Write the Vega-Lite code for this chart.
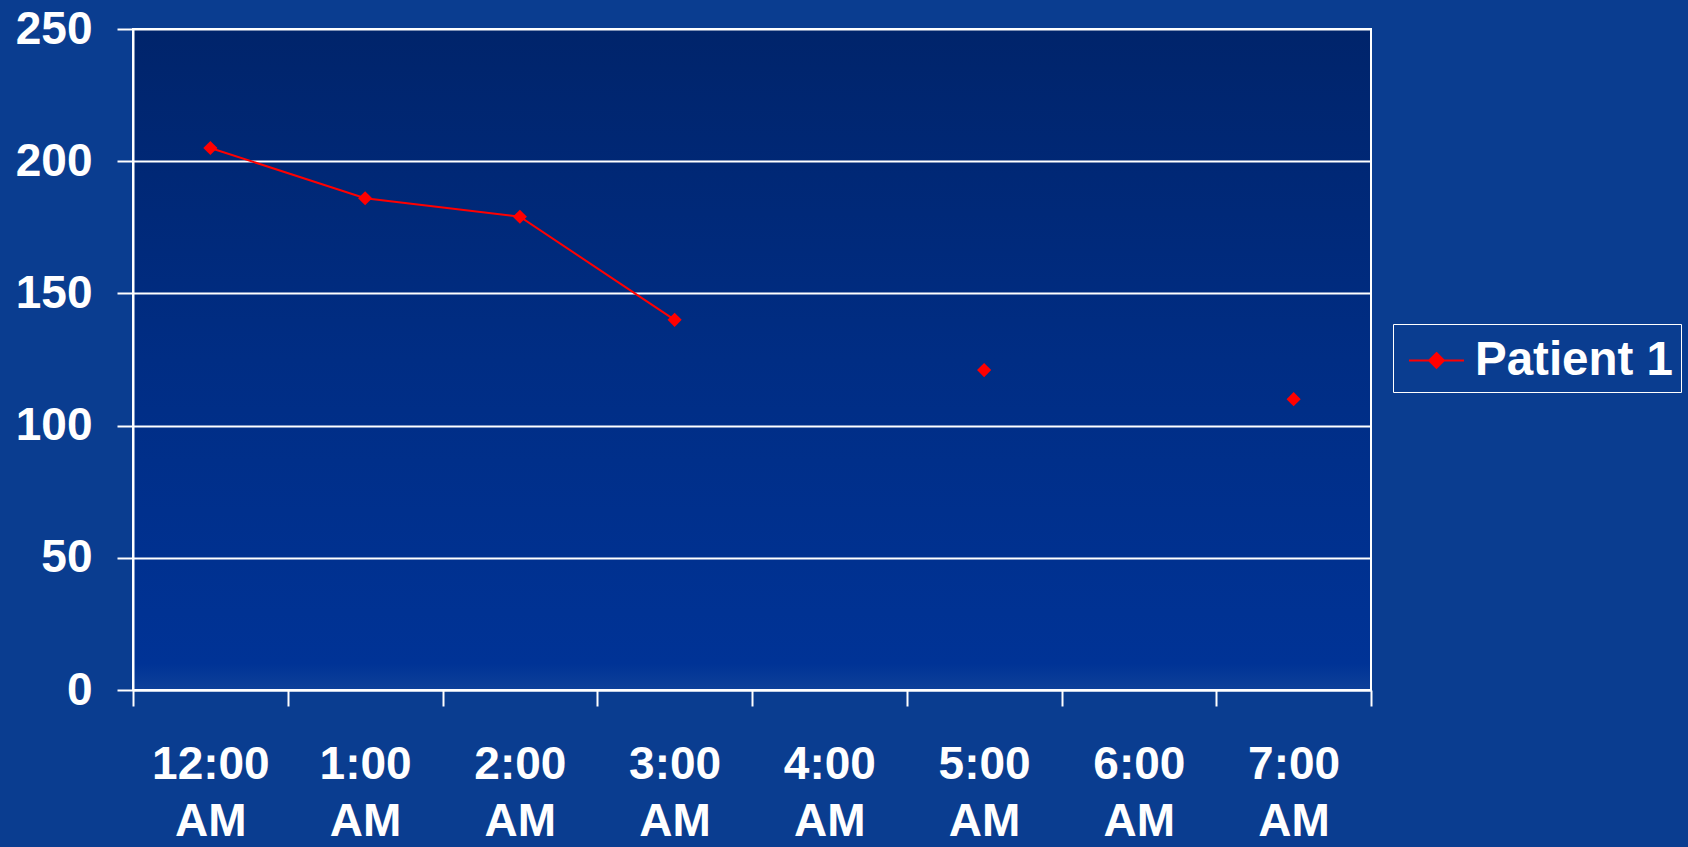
{
  "$schema": "https://vega.github.io/schema/vega-lite/v6.json",
  "width": 1238,
  "height": 661,
  "autosize": {"type": "none"},
  "padding": {"left": 133, "top": 29, "right": 317, "bottom": 157},
  "background": "#0a3d90",
  "config": {
    "font": "Liberation Sans",
    "view": {
      "stroke": "#ffffff",
      "strokeWidth": 2,
      "fill": {
        "gradient": "linear",
        "x1": 0, "y1": 0, "x2": 0, "y2": 1,
        "stops": [
          {"offset": 0, "color": "#00246b"},
          {"offset": 0.5, "color": "#002d84"},
          {"offset": 0.96, "color": "#003396"},
          {"offset": 1, "color": "#0e4099"}
        ]
      }
    },
    "axis": {
      "domainColor": "#ffffff",
      "domainWidth": 2,
      "tickColor": "#ffffff",
      "tickWidth": 2,
      "tickSize": 16,
      "labelColor": "#ffffff",
      "labelFont": "Liberation Sans",
      "labelFontWeight": "bold",
      "labelFontSize": 46,
      "title": null
    }
  },
  "data": {
    "values": [
      {"time": "12:00 AM", "glucose": 205, "series": "Patient 1"},
      {"time": "1:00 AM", "glucose": 186, "series": "Patient 1"},
      {"time": "2:00 AM", "glucose": 179, "series": "Patient 1"},
      {"time": "3:00 AM", "glucose": 140, "series": "Patient 1"},
      {"time": "4:00 AM", "glucose": null, "series": "Patient 1"},
      {"time": "5:00 AM", "glucose": 121, "series": "Patient 1"},
      {"time": "6:00 AM", "glucose": null, "series": "Patient 1"},
      {"time": "7:00 AM", "glucose": 110, "series": "Patient 1"}
    ]
  },
  "encoding": {
    "x": {
      "field": "time",
      "type": "ordinal",
      "sort": null,
      "scale": {
        "type": "band",
        "paddingInner": 0,
        "paddingOuter": 0,
        "domain": ["12:00 AM", "1:00 AM", "2:00 AM", "3:00 AM", "4:00 AM", "5:00 AM", "6:00 AM", "7:00 AM"]
      },
      "axis": {
        "tickBand": "extent",
        "grid": false,
        "labelAngle": 0,
        "labelPadding": 36,
        "labelLineHeight": 57,
        "labelFontSize": 46,
        "labelExpr": "split(datum.label, ' ')"
      }
    },
    "y": {
      "field": "glucose",
      "type": "quantitative",
      "scale": {"domain": [0, 250], "nice": false, "zero": true},
      "axis": {
        "values": [0, 50, 100, 150, 200, 250],
        "grid": true,
        "gridColor": "#ffffff",
        "gridWidth": 2,
        "gridOpacity": 1,
        "labelPadding": 25,
        "labelBaseline": "middle"
      }
    },
    "color": {
      "field": "series",
      "type": "nominal",
      "scale": {"domain": ["Patient 1"], "range": ["#ff0000"]},
      "legend": {
        "title": null,
        "orient": "none",
        "legendX": 1260,
        "legendY": 295,
        "padding": 8,
        "strokeColor": "#ffffff",
        "symbolType": "M-1,0H1M0,-0.27L0.27,0L0,0.27L-0.27,0Z",
        "symbolSize": 3025,
        "symbolOffset": 7,
        "symbolStrokeWidth": 2,
        "symbolFillColor": "#ff0000",
        "symbolStrokeColor": "#ff0000",
        "symbolOpacity": 1,
        "labelOffset": 10,
        "labelColor": "#ffffff",
        "labelFont": "Liberation Sans",
        "labelFontWeight": "bold",
        "labelFontSize": 47.5,
        "labelLimit": 400
      }
    }
  },
  "layer": [
    {
      "mark": {"type": "line", "strokeWidth": 2, "invalid": "break-paths-filter-domains"}
    },
    {
      "mark": {"type": "point", "shape": "diamond", "filled": true, "size": 200, "opacity": 1}
    }
  ]
}
